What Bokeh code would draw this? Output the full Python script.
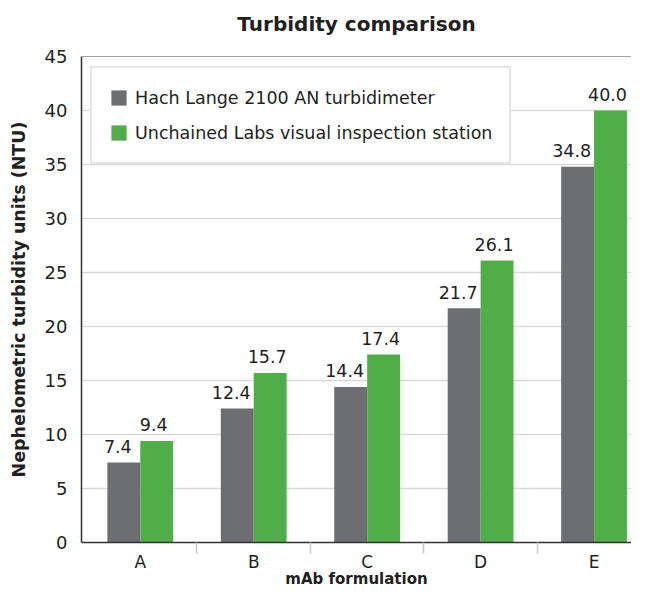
from bokeh.plotting import figure
from bokeh.models import (ColumnDataSource, Range1d, FixedTicker, Legend, LegendItem, Span, Title)
from bokeh.core.properties import value
from bokeh.embed import file_html
from bokeh.resources import INLINE

categories = ["A", "B", "C", "D", "E"]
hach = [7.4, 12.4, 14.4, 21.7, 34.8]
unchained = [9.4, 15.7, 17.4, 26.1, 40.0]
series_names = ["Hach Lange 2100 AN turbidimeter", "Unchained Labs visual inspection station"]
y_ticks = [0, 5, 10, 15, 20, 25, 30, 35, 40, 45]
title_text = "Turbidity comparison"
x_title = "mAb formulation"
y_title = "Nephelometric turbidity units (NTU)"

FONT = "DejaVu Sans"
TXT = "#231f20"
GRAY = "#6d6e71"
GREEN = "#50ae48"
BW = 0.29

centers = [i + 0.5 for i in range(len(categories))]
src = ColumnDataSource(dict(
    x=centers,
    xg=[c - BW / 2 for c in centers],
    xu=[c + BW / 2 for c in centers],
    hach=hach,
    unchained=unchained,
    hl=["%.1f" % v for v in hach],
    ul=["%.1f" % v for v in unchained],
))

p = figure(width=631, height=590, output_backend="svg", toolbar_location=None,
           x_range=Range1d(-0.018, 4.83), y_range=Range1d(0, 45),
           min_border_left=81, min_border_right=0, min_border_top=56, min_border_bottom=44)
p.background_fill_color = "white"
p.border_fill_color = "white"
p.outline_line_color = None

# spacer title (closest to the frame), then the real title above it
p.add_layout(Title(text=" ", text_font_size="1px", standoff=6), "above")
p.add_layout(Title(text=title_text, text_font=FONT, text_font_size="20px", text_font_style="bold",
                   text_color=TXT, align="center", vertical_align="top", standoff=20), "above")

rg = p.vbar(x="xg", top="hach", width=BW, bottom=0, source=src, fill_color=GRAY, line_color=None)
ru = p.vbar(x="xu", top="unchained", width=BW, bottom=0, source=src, fill_color=GREEN, line_color=None)

p.text(x="xg", y="hach", text="hl", source=src, text_font=value(FONT), text_font_size="17.5px",
       text_color=TXT, text_align="center", text_baseline="alphabetic", x_offset=-6, y_offset=-16)
p.text(x="xu", y="unchained", text="ul", source=src, text_font=value(FONT), text_font_size="17.5px",
       text_color=TXT, text_align="center", text_baseline="alphabetic", x_offset=-3, y_offset=-16)

p.add_layout(Span(location=45, dimension="width", line_color="#444444", line_width=1.2))

# axes
xa = p.xaxis[0]
xa.ticker = FixedTicker(ticks=centers, minor_ticks=[1, 2, 3, 4])
xa.major_label_overrides = {c: lab for c, lab in zip(centers, categories)}
xa.major_tick_line_color = None
xa.major_tick_out = 0
xa.major_tick_in = 0
xa.minor_tick_line_color = "#c8c8c8"
xa.minor_tick_line_width = 1.5
xa.minor_tick_out = 11
xa.minor_tick_in = 0
xa.axis_line_color = "#333333"
xa.axis_line_width = 1.5
xa.major_label_standoff = -2
xa.major_label_text_font = FONT
xa.major_label_text_font_size = "17px"
xa.major_label_text_color = TXT
xa.axis_label = x_title
xa.axis_label_text_font = FONT
xa.axis_label_text_font_size = "15px"
xa.axis_label_text_font_style = "bold"
xa.axis_label_text_color = TXT
xa.axis_label_standoff = -5

ya = p.yaxis[0]
ya.ticker = FixedTicker(ticks=y_ticks)
ya.major_tick_line_color = None
ya.major_tick_out = 0
ya.major_tick_in = 0
ya.minor_tick_line_color = None
ya.axis_line_color = "#333333"
ya.axis_line_width = 1.5
ya.major_label_standoff = 14
ya.major_label_text_font = FONT
ya.major_label_text_font_size = "18px"
ya.major_label_text_color = TXT
ya.axis_label = y_title
ya.axis_label_text_font = FONT
ya.axis_label_text_font_size = "17.5px"
ya.axis_label_text_font_style = "bold"
ya.axis_label_text_color = TXT
ya.axis_label_standoff = 13

p.xgrid.grid_line_color = None
p.ygrid.grid_line_color = "#d9d9d9"
p.ygrid.grid_line_width = 1.5

legend = Legend(items=[LegendItem(label=series_names[0], renderers=[rg]),
                       LegendItem(label=series_names[1], renderers=[ru])],
                location=(9, 378))
legend.label_text_font = FONT
legend.label_text_font_size = "17.5px"
legend.label_text_color = TXT
legend.glyph_width = 19
legend.glyph_height = 19
legend.spacing = 10
legend.padding = 17
legend.margin = 0
legend.label_standoff = 7
legend.label_height = 25
legend.border_line_color = "#cccccc"
legend.border_line_width = 2
legend.background_fill_color = "white"
legend.background_fill_alpha = 1
p.add_layout(legend, "center")

open("out.html", "w").write(file_html(p, INLINE))
